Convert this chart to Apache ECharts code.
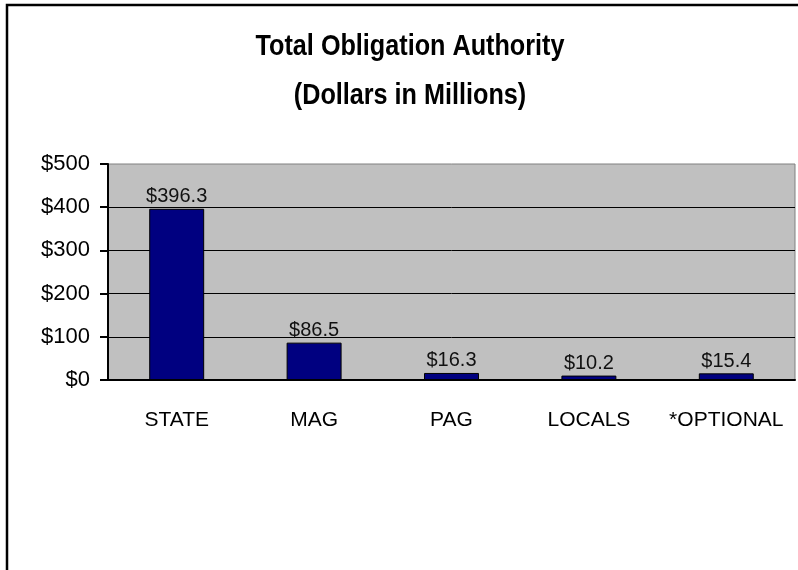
<!DOCTYPE html>
<html>
<head>
<meta charset="utf-8">
<script src="https://cdn.jsdelivr.net/npm/echarts@6/dist/echarts.min.js"></script>
<style>
  html, body { margin: 0; padding: 0; background: #fff; }
  #chart { width: 798px; height: 570px; }
</style>
</head>
<body>
<div id="chart"></div>
<script>
// 数据
const categories = ["STATE", "MAG", "PAG", "LOCALS", "*OPTIONAL"];
const values = [396.3, 86.5, 16.3, 10.2, 15.4];
const yTicks = [0, 100, 200, 300, 400, 500];
const titleLines = ["Total Obligation Authority", "(Dollars in Millions)"];

const font = "'Liberation Sans', Arial, sans-serif";

const chart = echarts.init(document.getElementById("chart"));
chart.setOption({
  backgroundColor: "#fff",
  animation: false,
  // 外框 + 标题（压窄的粗体）
  graphic: [
    {
      type: "rect",
      shape: { x: 7, y: 5, width: 900, height: 700 },
      style: { fill: "none", stroke: "#000", lineWidth: 2.5 },
      silent: true
    },
    {
      type: "text",
      x: 410, y: 47, scaleX: 0.84,
      style: {
        text: titleLines[0], fill: "#000",
        font: "bold 30px " + font,
        textAlign: "center", textVerticalAlign: "middle"
      }
    },
    {
      type: "text",
      x: 410, y: 96, scaleX: 0.84,
      style: {
        text: titleLines[1], fill: "#000",
        font: "bold 30px " + font,
        textAlign: "center", textVerticalAlign: "middle"
      }
    }
  ],
  grid: {
    left: 108,
    right: 3,
    top: 164,
    bottom: 190,
    show: true,
    backgroundColor: "#C0C0C0",
    borderColor: "#808080",
    borderWidth: 1
  },
  xAxis: {
    type: "category",
    data: categories,
    axisLine: { lineStyle: { color: "#000", width: 2 } },
    axisTick: { length: 8, lineStyle: { color: "#000", width: 2 } },
    axisLabel: {
      margin: 30,
      fontFamily: font,
      fontSize: 21,
      color: "#000",
      interval: 0
    }
  },
  yAxis: {
    type: "value",
    min: yTicks[0],
    max: yTicks[yTicks.length - 1],
    interval: 100,
    axisLine: { show: true, lineStyle: { color: "#000", width: 2 } },
    axisTick: { show: true, length: 8, lineStyle: { color: "#000", width: 2 } },
    splitLine: { showMaxLine: false, lineStyle: { color: "#000", width: 1 } },
    axisLabel: {
      margin: 18,
      fontFamily: font,
      fontSize: 22,
      color: "#000",
      formatter: (v) => "$" + v
    }
  },
  series: [
    {
      type: "bar",
      data: values,
      barWidth: "40%",
      itemStyle: { color: "#000080", borderColor: "#000", borderWidth: 1 },
      label: {
        show: true,
        position: "top",
        distance: 2,
        fontFamily: font,
        fontSize: 20,
        color: "#111",
        formatter: (p) => "$" + p.value.toFixed(1)
      }
    }
  ]
});
</script>
</body>
</html>
